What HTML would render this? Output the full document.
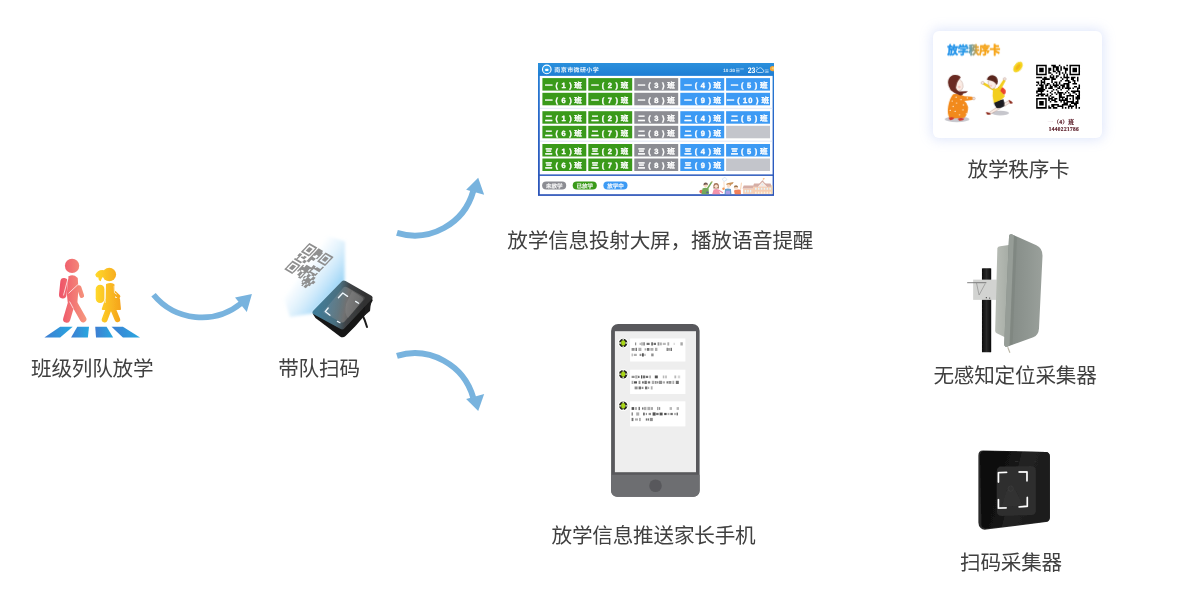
<!DOCTYPE html>
<html lang="zh-CN">
<head>
<meta charset="utf-8">
<title>放学秩序管理流程</title>
<style>
html,body{margin:0;padding:0;background:#fff;}
body{will-change:transform;width:1187px;height:613px;position:relative;overflow:hidden;font-family:"Liberation Sans","Noto Sans CJK SC",sans-serif;}
.abs{position:absolute;display:block;}
.lbl{position:absolute;white-space:nowrap;color:#404040;font-size:20.6px;line-height:24px;height:24px;letter-spacing:-0.2px;text-indent:0;text-align:center;}
svg{overflow:visible;}
svg text{font-family:"Liberation Sans","Noto Sans CJK SC",sans-serif;}
svg .srf text{font-family:"Liberation Serif","Noto Serif CJK SC",serif;}
</style>
</head>
<body>
<div class="lbl" style="left:31px;top:356.7px;width:122px;">班级列队放学</div>
<div class="lbl" style="left:278px;top:356.7px;width:82px;">带队扫码</div>
<div class="lbl" style="left:505.3px;top:228.7px;width:310px;">放学信息投射大屏，播放语音提醒</div>
<div class="lbl" style="left:550px;top:523.7px;width:207px;">放学信息推送家长手机</div>
<div class="lbl" style="left:966px;top:157.7px;width:105px;">放学秩序卡</div>
<div class="lbl" style="left:932px;top:363.7px;width:166px;">无感知定位采集器</div>
<div class="lbl" style="left:959px;top:550.7px;width:104px;">扫码采集器</div>
<svg class="abs" style="left:140px;top:270px;" width="130" height="70" viewBox="0 0 1138 613">
  <path d="M118 217 A 547 547 0 0 0 885 292" fill="none" stroke="#78B3DE" stroke-width="50"/>
  <path d="M980 210 L832 240 L935 368 Z" fill="#78B3DE"/>
</svg>
<svg class="abs" style="left:385px;top:165px;" width="115" height="85" viewBox="0 0 829 613">
  <path d="M86 490 A 440 440 0 0 0 636 188" fill="none" stroke="#78B3DE" stroke-width="43"/>
  <path d="M672 92 L585 178 L715 215 Z" fill="#78B3DE"/>
</svg>
<svg class="abs" style="left:385px;top:335px;" width="115" height="85" viewBox="0 0 829 613">
  <g transform="translate(0 640) scale(1 -1)">
  <path d="M86 490 A 440 440 0 0 0 636 188" fill="none" stroke="#78B3DE" stroke-width="43"/>
  <path d="M672 92 L585 178 L715 215 Z" fill="#78B3DE"/>
  </g>
</svg>
<svg class="abs" style="left:30px;top:250px;" width="120" height="100" viewBox="0 0 736 613">
  <defs>
    <linearGradient id="gBoy" gradientUnits="userSpaceOnUse" x1="180" y1="0" x2="345" y2="0"><stop offset="0" stop-color="#EE5268"/><stop offset="1" stop-color="#F6987E"/></linearGradient>
    <linearGradient id="gGirl" gradientUnits="userSpaceOnUse" x1="400" y1="0" x2="560" y2="0"><stop offset="0" stop-color="#FFD92A"/><stop offset="1" stop-color="#F5A21C"/></linearGradient>
    <linearGradient id="gRoad" x1="0" y1="0" x2="1" y2="0"><stop offset="0" stop-color="#3E7ED2"/><stop offset="1" stop-color="#27A8E0"/></linearGradient>
    <filter id="fStu" filterUnits="userSpaceOnUse" x="0" y="0" width="736" height="613"><feGaussianBlur stdDeviation="2.2"/></filter>
  </defs>
  <g filter="url(#fStu)">
  <g fill="url(#gRoad)">
    <path d="M185 470 L262 470 L185 537 L88 537 Z"/>
    <path d="M290 470 L362 470 L355 537 L252 537 Z"/>
    <path d="M400 470 L470 470 L510 537 L405 537 Z"/>
    <path d="M500 470 L570 470 L675 537 L570 537 Z"/>
  </g>
  <g fill="url(#gBoy)" stroke="url(#gBoy)" stroke-linecap="round" stroke-linejoin="round">
    <circle cx="258" cy="97" r="44" stroke="none"/>
    <path d="M209 194 L201 274" stroke-width="46" fill="none"/>
    <path d="M240 166 Q266 154 287 174 L291 240 L285 318 L237 318 L232 268 Z" stroke-width="12"/>
    <path d="M301 230 L318 280" stroke-width="28" fill="none"/>
    <path d="M258 312 L225 424" stroke-width="44" fill="none"/>
    <path d="M266 318 L326 424" stroke-width="40" fill="none"/>
  </g>
  <g fill="url(#gGirl)" stroke="url(#gGirl)" stroke-linecap="round" stroke-linejoin="round">
    <circle cx="486" cy="150" r="42" stroke="none"/>
    <path d="M454 124 Q416 118 400 152 Q406 172 420 168 Q418 186 434 192 Q440 164 458 160 Z" stroke="none"/>
    <path d="M430 240 L430 298" stroke-width="54" fill="none"/>
    <path d="M472 212 Q496 204 512 214 L518 300 L546 300 L552 362 L446 362 L468 300 Z" stroke-width="12"/>
    <path d="M518 262 L542 284" stroke-width="24" fill="none"/>
    <path d="M480 368 L458 426" stroke-width="36" fill="none"/>
    <path d="M512 368 L536 426" stroke-width="34" fill="none"/>
  </g>
  <g stroke="#fff" stroke-width="4.5" fill="none" stroke-linecap="round">
    <path d="M234 170 L206 276"/>
    <path d="M292 214 L238 264"/>
    <path d="M461 214 L461 322"/>
    <path d="M516 222 L518 262 L530 270"/>
    <path d="M244 318 L264 356"/>
  </g>
  </g>
</svg>
<svg class="abs" style="left:270px;top:230px;" width="120" height="120" viewBox="270 230 120 120">
<defs>
<linearGradient id="gBeam" gradientUnits="userSpaceOnUse" x1="303" y1="268" x2="336" y2="292"><stop offset="0" stop-color="#C4E5FA" stop-opacity="0"/><stop offset="0.45" stop-color="#BDE2F9" stop-opacity="0.5"/><stop offset="1" stop-color="#98D3F6" stop-opacity="1"/></linearGradient>
<linearGradient id="gFace" gradientUnits="userSpaceOnUse" x1="318" y1="300" x2="366" y2="306"><stop offset="0" stop-color="#417C98"/><stop offset="0.42" stop-color="#4A6E7E"/><stop offset="0.62" stop-color="#404346"/><stop offset="1" stop-color="#303030"/></linearGradient>
<linearGradient id="gScr" gradientUnits="userSpaceOnUse" x1="322" y1="300" x2="362" y2="308"><stop offset="0" stop-color="#5588A4"/><stop offset="0.45" stop-color="#667880"/><stop offset="0.6" stop-color="#757575"/><stop offset="1" stop-color="#505050"/></linearGradient>
<filter id="fB1" filterUnits="userSpaceOnUse" x="270" y="230" width="120" height="120"><feGaussianBlur stdDeviation="1.8"/></filter>
<filter id="fB2" filterUnits="userSpaceOnUse" x="270" y="230" width="120" height="120"><feGaussianBlur stdDeviation="0.45"/></filter>
</defs>
<g filter="url(#fB1)"><path d="M312.4 313.5 L344.5 281 L345 241.5 L328 236 L284 298 L290 317 Z" fill="url(#gBeam)"/></g>
<g filter="url(#fB2)"><g transform="matrix(24.2 14.2 -25.2 26.4 309.4 242.9)"><path d="M0.00 0.00h0.33v0.05h-0.33zM0.38 0.00h0.19v0.05h-0.19zM0.67 0.00h0.33v0.05h-0.33zM0.00 0.05h0.05v0.05h-0.05zM0.29 0.05h0.05v0.05h-0.05zM0.38 0.05h0.24v0.05h-0.24zM0.67 0.05h0.05v0.05h-0.05zM0.95 0.05h0.05v0.05h-0.05zM0.00 0.10h0.05v0.05h-0.05zM0.10 0.10h0.14v0.05h-0.14zM0.29 0.10h0.05v0.05h-0.05zM0.38 0.10h0.24v0.05h-0.24zM0.67 0.10h0.05v0.05h-0.05zM0.76 0.10h0.14v0.05h-0.14zM0.95 0.10h0.05v0.05h-0.05zM0.00 0.14h0.05v0.05h-0.05zM0.10 0.14h0.14v0.05h-0.14zM0.29 0.14h0.05v0.05h-0.05zM0.38 0.14h0.24v0.05h-0.24zM0.67 0.14h0.05v0.05h-0.05zM0.76 0.14h0.14v0.05h-0.14zM0.95 0.14h0.05v0.05h-0.05zM0.00 0.19h0.05v0.05h-0.05zM0.10 0.19h0.14v0.05h-0.14zM0.29 0.19h0.05v0.05h-0.05zM0.38 0.19h0.10v0.05h-0.10zM0.57 0.19h0.05v0.05h-0.05zM0.67 0.19h0.05v0.05h-0.05zM0.76 0.19h0.14v0.05h-0.14zM0.95 0.19h0.05v0.05h-0.05zM0.00 0.24h0.05v0.05h-0.05zM0.29 0.24h0.05v0.05h-0.05zM0.38 0.24h0.05v0.05h-0.05zM0.57 0.24h0.05v0.05h-0.05zM0.67 0.24h0.05v0.05h-0.05zM0.95 0.24h0.05v0.05h-0.05zM0.00 0.29h0.33v0.05h-0.33zM0.38 0.29h0.19v0.05h-0.19zM0.67 0.29h0.33v0.05h-0.33zM0.38 0.33h0.19v0.05h-0.19zM0.00 0.38h0.10v0.05h-0.10zM0.19 0.38h0.10v0.05h-0.10zM0.38 0.38h0.10v0.05h-0.10zM0.95 0.38h0.05v0.05h-0.05zM0.00 0.43h0.10v0.05h-0.10zM0.14 0.43h0.14v0.05h-0.14zM0.38 0.43h0.10v0.05h-0.10zM0.95 0.43h0.05v0.05h-0.05zM0.05 0.48h0.05v0.05h-0.05zM0.29 0.48h0.10v0.05h-0.10zM0.67 0.48h0.10v0.05h-0.10zM0.81 0.48h0.19v0.05h-0.19zM0.05 0.52h0.05v0.05h-0.05zM0.29 0.52h0.10v0.05h-0.10zM0.67 0.52h0.33v0.05h-0.33zM0.00 0.57h0.29v0.05h-0.29zM0.48 0.57h0.29v0.05h-0.29zM0.38 0.62h0.05v0.05h-0.05zM0.48 0.62h0.19v0.05h-0.19zM0.71 0.62h0.05v0.05h-0.05zM0.95 0.62h0.05v0.05h-0.05zM0.00 0.67h0.33v0.05h-0.33zM0.38 0.67h0.29v0.05h-0.29zM0.71 0.67h0.29v0.05h-0.29zM0.00 0.71h0.05v0.05h-0.05zM0.29 0.71h0.05v0.05h-0.05zM0.38 0.71h0.38v0.05h-0.38zM0.86 0.71h0.10v0.05h-0.10zM0.00 0.76h0.05v0.05h-0.05zM0.10 0.76h0.14v0.05h-0.14zM0.29 0.76h0.05v0.05h-0.05zM0.38 0.76h0.10v0.05h-0.10zM0.57 0.76h0.10v0.05h-0.10zM0.76 0.76h0.10v0.05h-0.10zM0.95 0.76h0.10v0.05h-0.10zM0.00 0.81h0.05v0.05h-0.05zM0.10 0.81h0.14v0.05h-0.14zM0.29 0.81h0.05v0.05h-0.05zM0.38 0.81h0.05v0.05h-0.05zM0.48 0.81h0.10v0.05h-0.10zM0.62 0.81h0.05v0.05h-0.05zM0.76 0.81h0.10v0.05h-0.10zM0.95 0.81h0.10v0.05h-0.10zM0.00 0.86h0.05v0.05h-0.05zM0.10 0.86h0.14v0.05h-0.14zM0.29 0.86h0.05v0.05h-0.05zM0.48 0.86h0.10v0.05h-0.10zM0.62 0.86h0.05v0.05h-0.05zM0.71 0.86h0.05v0.05h-0.05zM0.81 0.86h0.19v0.05h-0.19zM1.05 0.86h0.10v0.05h-0.10zM0.00 0.90h0.05v0.05h-0.05zM0.29 0.90h0.05v0.05h-0.05zM0.48 0.90h0.10v0.05h-0.10zM0.62 0.90h0.05v0.05h-0.05zM0.71 0.90h0.05v0.05h-0.05zM0.81 0.90h0.19v0.05h-0.19zM1.05 0.90h0.10v0.05h-0.10zM0.00 0.95h0.33v0.05h-0.33zM0.57 0.95h0.10v0.05h-0.10zM0.76 0.95h0.33v0.05h-0.33zM0.76 1.00h0.05v0.05h-0.05zM0.86 1.00h0.10v0.05h-0.10zM1.00 1.00h0.10v0.05h-0.10zM0.81 1.05h0.10v0.05h-0.10zM0.95 1.05h0.10v0.05h-0.10zM0.86 1.10h0.05v0.05h-0.05zM0.95 1.10h0.10v0.05h-0.10z" fill="#8F8F8F"/></g></g>
<g filter="url(#fB2)">
<path d="M362 314 Q365 320 367 327" stroke="#1C1C1C" stroke-width="2" fill="none" stroke-linecap="round"/>
<path d="M312.6 313.5 L315.5 318 L340 336.5 Q343 338.4 345.5 336 L355.5 326 L366 314 L372.6 300.5 L372 297 Z" fill="#141414"/>
<path d="M366 300 L371 302 L370 311 L364 316 Z" fill="#1E1E1E"/>
<path d="M341.6 281.4 Q343.4 279.8 345.6 281 L371 295.4 Q373.4 296.8 372 299 L344.6 328.2 Q342.6 330.2 340.2 328.8 L313.6 314.2 Q311.4 312.8 313.2 310.8 Z" fill="url(#gFace)"/>
<path d="M343.4 287.6 Q345 286.2 347 287.2 L363.6 296.4 Q365.6 297.6 364.2 299.4 L344.6 321.6 Q343 323.2 341 322.2 L324.6 313.6 Q322.4 312.4 324 310.4 Z" fill="url(#gScr)" opacity="0.9"/>
<path d="M352 291 L362 297 Q364 298.5 362.6 300.4 L348 318 Q344 314 346 304 Z" fill="#8A8A8A" opacity="0.45"/>
<g fill="none" stroke="#F0F8FD" stroke-width="1.3" stroke-linecap="round" stroke-linejoin="round"><path d="M338.4 297.8 L342.8 293 L347.6 296.4"/><path d="M328.2 308 L325.2 311.6 L330 315.2"/><path d="M355.6 301.4 L358.6 303.2"/><path d="M337.4 321.4 L340 322.8"/></g>
</g>
</svg>
<svg class="abs" style="left:530px;top:55px;text-rendering:geometricPrecision;" width="260" height="150" viewBox="530 55 260 150">
<defs><linearGradient id="gHdr" x1="0" y1="0" x2="0" y2="1"><stop offset="0" stop-color="#2A90DC"/><stop offset="1" stop-color="#1F7ED4"/></linearGradient><linearGradient id="gBrd" x1="0" y1="0" x2="0" y2="1"><stop offset="0" stop-color="#2384D8"/><stop offset="0.45" stop-color="#2965C8"/><stop offset="1" stop-color="#2C54B8"/></linearGradient><filter id="fArt" x="-5%" y="-5%" width="110%" height="110%"><feGaussianBlur stdDeviation="3"/></filter><clipPath id="cScr"><rect x="538.2" y="63" width="235.8" height="132.7"/></clipPath><filter id="fTxt" filterUnits="userSpaceOnUse" x="530" y="55" width="260" height="150"><feGaussianBlur stdDeviation="0.28"/></filter></defs>
<rect x="538" y="63" width="236" height="132.9" fill="url(#gBrd)"/>
<rect x="539.8" y="75.6" width="232.8" height="98.8" fill="#fff"/>
<rect x="539.8" y="175.9" width="232.8" height="18.3" fill="#fff"/>
<rect x="538" y="63" width="236" height="12.7" fill="url(#gHdr)"/>
<rect x="540" y="107.80000000000001" width="232.2" height="1.2" fill="#E6ECF7"/>
<rect x="540" y="140.6" width="232.2" height="1.2" fill="#E6ECF7"/>
<g filter="url(#fTxt)">
<circle cx="546.8" cy="69.4" r="4.3" fill="#2D9BE8" stroke="#fff" stroke-width="1.1"/>
<rect x="545.1" y="68.7" width="3.4" height="2.3" rx="0.8" fill="#fff"/>
<text x="554.3" y="72" font-size="6" font-weight="bold" fill="#E4F1FB" textLength="44.5" lengthAdjust="spacing">南京市微研小学</text>
<text x="723.3" y="72.1" font-size="4.6" font-weight="bold" fill="#D4E8F8">10:30</text>
<g fill="#CFE5F7"><rect x="736" y="68.6" width="3.6" height="0.7"/><rect x="740.2" y="68.6" width="3.6" height="0.7"/><rect x="736" y="70.3" width="3.6" height="0.7"/><rect x="736" y="71.6" width="3.6" height="0.6"/></g>
<text x="747.7" y="73" font-size="8" font-weight="bold" fill="#fff" textLength="7.6" lengthAdjust="spacingAndGlyphs">23</text>
<path d="M757.8 72.5 h4.4 a1.5 1.5 0 0 0 0.2 -3 a2.2 2.2 0 0 0 -4.2 -0.4 a1.7 1.7 0 0 0 -0.4 3.4 Z" fill="none" stroke="#E8F3FC" stroke-width="0.7"/>
<circle cx="757" cy="67.3" r="0.6" fill="#E8F3FC"/>
<g fill="#BFDCF4"><rect x="764.8" y="69.6" width="3.8" height="0.7"/><rect x="765.4" y="71" width="3.2" height="0.7"/><rect x="764.8" y="72.3" width="3.8" height="0.6"/></g>
</g>
<g clip-path="url(#cScr)"><circle cx="772.6" cy="68.6" r="2.7" fill="#F5A538"/><circle cx="773.2" cy="68.3" r="1.3" fill="#F8D070"/></g>
<rect x="542.4" y="78.1" width="43.9" height="12.5" fill="#3A9A1A"/>
<rect x="588.3" y="78.1" width="43.9" height="12.5" fill="#3A9A1A"/>
<rect x="634.3" y="78.1" width="43.9" height="12.5" fill="#8C8D93"/>
<rect x="680.3" y="78.1" width="43.9" height="12.5" fill="#3C9AF4"/>
<rect x="726.1" y="78.1" width="43.9" height="12.5" fill="#3C9AF4"/>
<rect x="542.4" y="92.8" width="43.9" height="12.5" fill="#3A9A1A"/>
<rect x="588.3" y="92.8" width="43.9" height="12.5" fill="#3A9A1A"/>
<rect x="634.3" y="92.8" width="43.9" height="12.5" fill="#8C8D93"/>
<rect x="680.3" y="92.8" width="43.9" height="12.5" fill="#3C9AF4"/>
<rect x="726.1" y="92.8" width="43.9" height="12.5" fill="#3C9AF4"/>
<rect x="542.4" y="111.2" width="43.9" height="12.5" fill="#3A9A1A"/>
<rect x="588.3" y="111.2" width="43.9" height="12.5" fill="#3A9A1A"/>
<rect x="634.3" y="111.2" width="43.9" height="12.5" fill="#8C8D93"/>
<rect x="680.3" y="111.2" width="43.9" height="12.5" fill="#3C9AF4"/>
<rect x="726.1" y="111.2" width="43.9" height="12.5" fill="#3C9AF4"/>
<rect x="542.4" y="125.8" width="43.9" height="12.5" fill="#3A9A1A"/>
<rect x="588.3" y="125.8" width="43.9" height="12.5" fill="#3A9A1A"/>
<rect x="634.3" y="125.8" width="43.9" height="12.5" fill="#8C8D93"/>
<rect x="680.3" y="125.8" width="43.9" height="12.5" fill="#3C9AF4"/>
<rect x="726.1" y="125.8" width="43.9" height="12.5" fill="#C3C5CB"/>
<rect x="542.4" y="144.0" width="43.9" height="12.5" fill="#3A9A1A"/>
<rect x="588.3" y="144.0" width="43.9" height="12.5" fill="#3A9A1A"/>
<rect x="634.3" y="144.0" width="43.9" height="12.5" fill="#8C8D93"/>
<rect x="680.3" y="144.0" width="43.9" height="12.5" fill="#3C9AF4"/>
<rect x="726.1" y="144.0" width="43.9" height="12.5" fill="#3C9AF4"/>
<rect x="542.4" y="158.5" width="43.9" height="12.5" fill="#3A9A1A"/>
<rect x="588.3" y="158.5" width="43.9" height="12.5" fill="#3A9A1A"/>
<rect x="634.3" y="158.5" width="43.9" height="12.5" fill="#8C8D93"/>
<rect x="680.3" y="158.5" width="43.9" height="12.5" fill="#3C9AF4"/>
<rect x="726.1" y="158.5" width="43.9" height="12.5" fill="#C3C5CB"/>
<g filter="url(#fTxt)" font-size="7.5" font-weight="bold" fill="#fff" stroke="#fff" stroke-width="0.35" text-anchor="middle">
<text y="87.8" x="548.8 556.7 563.6 570.5 578.1">一(1)班</text>
<text y="87.8" x="595.0 603.0 609.9 616.8 624.4">一(2)班</text>
<text y="87.8" x="641.5 649.5 656.4 663.3 670.9">一(3)班</text>
<text y="87.8" x="687.9 695.9 702.8 709.7 717.3">一(4)班</text>
<text y="87.8" x="734.4 742.3 749.2 756.1 763.7">一(5)班</text>
<text y="102.5" x="548.8 556.7 563.6 570.5 578.1">一(6)班</text>
<text y="102.5" x="595.0 603.0 609.9 616.8 624.4">一(7)班</text>
<text y="102.5" x="641.5 649.5 656.4 663.3 670.9">一(8)班</text>
<text y="102.5" x="687.9 695.9 702.8 709.7 717.3">一(9)班</text>
<text y="102.5" x="730.4 738.6 745.1 750.4 757.2 765.3">一(10)班</text>
<text y="121.0" x="548.8 556.7 563.6 570.5 578.1">二(1)班</text>
<text y="121.0" x="595.0 603.0 609.9 616.8 624.4">二(2)班</text>
<text y="121.0" x="641.5 649.5 656.4 663.3 670.9">二(3)班</text>
<text y="121.0" x="687.9 695.9 702.8 709.7 717.3">二(4)班</text>
<text y="121.0" x="734.4 742.3 749.2 756.1 763.7">二(5)班</text>
<text y="135.6" x="548.8 556.7 563.6 570.5 578.1">二(6)班</text>
<text y="135.6" x="595.0 603.0 609.9 616.8 624.4">二(7)班</text>
<text y="135.6" x="641.5 649.5 656.4 663.3 670.9">二(8)班</text>
<text y="135.6" x="687.9 695.9 702.8 709.7 717.3">二(9)班</text>
<text y="153.8" x="548.8 556.7 563.6 570.5 578.1">三(1)班</text>
<text y="153.8" x="595.0 603.0 609.9 616.8 624.4">三(2)班</text>
<text y="153.8" x="641.5 649.5 656.4 663.3 670.9">三(3)班</text>
<text y="153.8" x="687.9 695.9 702.8 709.7 717.3">三(4)班</text>
<text y="153.8" x="734.4 742.3 749.2 756.1 763.7">三(5)班</text>
<text y="168.2" x="548.8 556.7 563.6 570.5 578.1">三(6)班</text>
<text y="168.2" x="595.0 603.0 609.9 616.8 624.4">三(7)班</text>
<text y="168.2" x="641.5 649.5 656.4 663.3 670.9">三(8)班</text>
<text y="168.2" x="687.9 695.9 702.8 709.7 717.3">三(9)班</text>
</g>
<rect x="542.1" y="181.5" width="24.1" height="8.1" rx="4.05" fill="#8C8D93"/>
<text x="554.15" y="187.6" font-size="5.5" font-weight="bold" fill="#fff" stroke="#fff" stroke-width="0.15" text-anchor="middle" opacity="0.92" filter="url(#fTxt)">未放学</text>
<rect x="572.7" y="181.5" width="24.1" height="8.1" rx="4.05" fill="#3A9A1A"/>
<text x="584.75" y="187.6" font-size="5.5" font-weight="bold" fill="#fff" stroke="#fff" stroke-width="0.15" text-anchor="middle" opacity="0.92" filter="url(#fTxt)">已放学</text>
<rect x="603.4" y="181.5" width="24.1" height="8.1" rx="4.05" fill="#3C9AF4"/>
<text x="615.4499999999999" y="187.6" font-size="5.5" font-weight="bold" fill="#fff" stroke="#fff" stroke-width="0.15" text-anchor="middle" opacity="0.92" filter="url(#fTxt)">放学中</text>
<g opacity="0.85" transform="translate(690 170) scale(0.07582)" filter="url(#fArt)">
<path d="M700 245 L830 245 L830 315 L700 315 Z" fill="#F6C6A6"/>
<path d="M692 245 L708 206 L832 206 L832 245 Z" fill="#CFA096"/>
<path d="M830 215 L1085 215 L1085 315 L830 315 Z" fill="#F6C6A6"/>
<path d="M828 222 L845 178 L1062 178 L1080 222 Z" fill="#CFA096"/>
<path d="M885 222 L955 142 L1025 222 Z" fill="#FBE8DC"/>
<path d="M878 222 L955 136 L1032 222 L1018 222 L955 154 L892 222 Z" fill="#C89A92"/>
<circle cx="955" cy="192" r="13" fill="#D6E8F0"/>
<path d="M966 106 L966 140" stroke="#D8A070" stroke-width="4"/><path d="M966 106 L990 116 L966 128 Z" fill="#F5A050"/>
<rect x="722" y="262" width="18" height="34" fill="#DDF4FA"/>
<rect x="756" y="262" width="18" height="34" fill="#DDF4FA"/>
<rect x="790" y="262" width="18" height="34" fill="#DDF4FA"/>
<rect x="858" y="234" width="20" height="26" fill="#DDF4FA"/>
<rect x="858" y="286" width="20" height="28" fill="#FCEFD8"/>
<rect x="896" y="234" width="20" height="26" fill="#DDF4FA"/>
<rect x="896" y="286" width="20" height="28" fill="#FCEFD8"/>
<rect x="934" y="234" width="20" height="26" fill="#DDF4FA"/>
<rect x="934" y="286" width="20" height="28" fill="#FCEFD8"/>
<rect x="972" y="234" width="20" height="26" fill="#DDF4FA"/>
<rect x="972" y="286" width="20" height="28" fill="#FCEFD8"/>
<rect x="1010" y="234" width="20" height="26" fill="#DDF4FA"/>
<rect x="1010" y="286" width="20" height="28" fill="#FCEFD8"/>
<rect x="1048" y="234" width="20" height="26" fill="#DDF4FA"/>
<rect x="1048" y="286" width="20" height="28" fill="#FCEFD8"/>
<rect x="1072" y="200" width="14" height="115" fill="#F4D6A0"/>
<circle cx="150" cy="285" r="26" fill="#E2503E"/>
<path d="M228 250 L288 156" stroke="#5C9A3C" stroke-width="20" stroke-linecap="round"/>
<circle cx="288" cy="154" r="9" fill="#F5C8A0"/>
<path d="M165 245 Q205 225 245 245 L250 320 L150 320 Z" fill="#5C9A3C"/>
<rect x="215" y="285" width="30" height="22" rx="4" fill="#3B4780"/>
<circle cx="207" cy="202" r="26" fill="#F7D3B5"/>
<path d="M178 200 Q176 166 207 166 Q238 166 236 198 Q218 184 178 200 Z" fill="#5A3B34"/>
<path d="M310 200 Q312 170 345 170 Q378 170 380 205 L382 245 L308 245 Z" fill="#935A3C"/>
<circle cx="345" cy="214" r="23" fill="#FADCC6"/>
<path d="M312 258 Q345 244 378 258 L400 320 L292 320 Z" fill="#F27F9C"/>
<path d="M380 268 L428 298" stroke="#F27F9C" stroke-width="16" stroke-linecap="round"/>
<path d="M425 118 L462 96 L488 128 L448 152 Z" fill="#fff" stroke="#A9C6E6" stroke-width="6"/>
<path d="M447 158 L452 238" stroke="#F7D3B5" stroke-width="12" stroke-linecap="round"/>
<circle cx="442" cy="248" r="16" fill="#F0883A"/>
<path d="M478 196 Q476 172 505 170 Q540 168 576 158 Q566 190 540 196 L538 210 Z" fill="#BF7F3E"/>
<circle cx="508" cy="212" r="24" fill="#F9D8BE"/>
<path d="M462 252 Q500 236 540 252 L546 320 L456 320 Z" fill="#4C8CC4"/>
<path d="M474 275 L526 275 L530 320 L470 320 Z" fill="#9C8CE2"/>
<path d="M668 250 L678 172" stroke="#F7CBA4" stroke-width="14" stroke-linecap="round"/>
<path d="M580 270 Q620 252 668 262 L672 320 L590 320 Z" fill="#F06C3C"/>
<circle cx="606" cy="236" r="25" fill="#F9D8BE"/>
<path d="M578 232 Q578 200 608 200 Q638 202 634 232 Q612 218 578 232 Z" fill="#8E5C2C"/>
</g>
</svg>
<svg class="abs" style="left:600px;top:315px;" width="112" height="190" viewBox="600 315 112 190"><defs><filter id="fPh" filterUnits="userSpaceOnUse" x="600" y="315" width="112" height="190"><feGaussianBlur stdDeviation="0.35"/></filter></defs><g filter="url(#fPh)">
<path d="M611.1 331 a7 7 0 0 1 7 -7 h74.5 a7 7 0 0 1 7 7 v159.8 a6 6 0 0 1 -6 6 h-76.5 a6 6 0 0 1 -6 -6 Z" fill="#58595B"/>
<path d="M611.1 474.8 h88.5 v16 a6 6 0 0 1 -6 6 h-76.5 a6 6 0 0 1 -6 -6 Z" fill="#6D6E71"/>
<rect x="614.9" y="331.2" width="81.1" height="141" fill="#EEEEEE"/>
<circle cx="655.5" cy="485.7" r="6.3" fill="#58595B"/>
<rect x="630.1" y="338.5" width="55.3" height="23.0" fill="#fff"/>
<circle cx="623.2" cy="343.0" r="5.3" fill="#FFFFFF"/>
<circle cx="623.2" cy="343.0" r="4.2" fill="#26281E"/>
<ellipse cx="623.2" cy="343.0" rx="2.1" ry="2.7" fill="#A8D612"/>
<path d="M618.6 343.0 h2.4 M625.4 343.0 h2.4 M623.2 338.6 v1.6 M623.2 345.9 v1.5" stroke="#E4E6DC" stroke-width="1.3" fill="none"/>
<rect x="635.0" y="342.5" width="1.2" height="2.8" fill="#333" opacity="0.55"/>
<rect x="639.6" y="342.8" width="1.2" height="2.2" fill="#333" opacity="0.40"/>
<rect x="641.4" y="342.3" width="1.2" height="3.2" fill="#333" opacity="0.55"/>
<rect x="643.2" y="342.3" width="1.8" height="3.2" fill="#333" opacity="0.55"/>
<rect x="646.6" y="342.8" width="3.0" height="2.2" fill="#333" opacity="0.70"/>
<rect x="651.2" y="342.3" width="1.8" height="3.2" fill="#333" opacity="0.70"/>
<rect x="653.6" y="342.8" width="2.4" height="2.2" fill="#333" opacity="0.70"/>
<rect x="657.6" y="342.3" width="1.8" height="3.2" fill="#333" opacity="0.55"/>
<rect x="660.0" y="342.5" width="1.8" height="2.8" fill="#333" opacity="0.40"/>
<rect x="662.8" y="342.8" width="3.0" height="2.2" fill="#333" opacity="0.35"/>
<rect x="667.4" y="342.3" width="1.8" height="3.2" fill="#333" opacity="0.42"/>
<rect x="673.6" y="342.8" width="1.2" height="2.2" fill="#333" opacity="0.20"/>
<rect x="680.4" y="342.3" width="2.4" height="3.2" fill="#333" opacity="0.42"/>
<rect x="631.6" y="348.0" width="3.0" height="2.8" fill="#333" opacity="0.55"/>
<rect x="635.6" y="347.8" width="1.2" height="3.2" fill="#333" opacity="0.85"/>
<rect x="638.4" y="347.8" width="3.0" height="3.2" fill="#333" opacity="0.40"/>
<rect x="644.6" y="348.3" width="1.8" height="2.2" fill="#333" opacity="0.40"/>
<rect x="647.0" y="348.0" width="2.4" height="2.8" fill="#333" opacity="0.70"/>
<rect x="650.4" y="348.0" width="3.0" height="2.8" fill="#333" opacity="0.40"/>
<rect x="655.0" y="347.8" width="2.4" height="3.2" fill="#333" opacity="0.40"/>
<rect x="666.6" y="347.8" width="1.2" height="3.2" fill="#333" opacity="0.70"/>
<rect x="668.4" y="348.0" width="1.2" height="2.8" fill="#333" opacity="0.70"/>
<rect x="670.6" y="347.8" width="1.2" height="3.2" fill="#333" opacity="0.85"/>
<rect x="631.6" y="353.5" width="1.2" height="2.8" fill="#333" opacity="0.40"/>
<rect x="633.8" y="353.8" width="3.0" height="2.2" fill="#333" opacity="0.40"/>
<rect x="639.6" y="353.8" width="1.8" height="2.2" fill="#333" opacity="0.55"/>
<rect x="642.0" y="353.3" width="1.8" height="3.2" fill="#333" opacity="0.85"/>
<rect x="644.4" y="353.8" width="1.2" height="2.2" fill="#333" opacity="0.40"/>
<rect x="651.2" y="353.5" width="2.4" height="2.8" fill="#333" opacity="0.55"/>
<rect x="630.1" y="369.7" width="55.3" height="24.3" fill="#fff"/>
<circle cx="623.2" cy="374.2" r="5.3" fill="#FFFFFF"/>
<circle cx="623.2" cy="374.2" r="4.2" fill="#26281E"/>
<ellipse cx="623.2" cy="374.2" rx="2.1" ry="2.7" fill="#A8D612"/>
<path d="M618.6 374.2 h2.4 M625.4 374.2 h2.4 M623.2 369.8 v1.6 M623.2 377.1 v1.5" stroke="#E4E6DC" stroke-width="1.3" fill="none"/>
<rect x="631.6" y="375.8" width="3.0" height="2.2" fill="#333" opacity="0.55"/>
<rect x="635.2" y="375.3" width="2.4" height="3.2" fill="#333" opacity="0.40"/>
<rect x="638.2" y="375.8" width="1.2" height="2.2" fill="#333" opacity="0.85"/>
<rect x="641.0" y="375.3" width="1.2" height="3.2" fill="#333" opacity="0.85"/>
<rect x="642.8" y="375.5" width="2.4" height="2.8" fill="#333" opacity="0.70"/>
<rect x="645.8" y="375.8" width="2.4" height="2.2" fill="#333" opacity="0.70"/>
<rect x="649.2" y="375.5" width="1.8" height="2.8" fill="#333" opacity="0.40"/>
<rect x="654.8" y="375.5" width="3.0" height="2.8" fill="#333" opacity="0.85"/>
<rect x="662.8" y="375.5" width="1.2" height="2.8" fill="#333" opacity="0.35"/>
<rect x="664.6" y="375.5" width="2.4" height="2.8" fill="#333" opacity="0.28"/>
<rect x="674.4" y="375.5" width="1.8" height="2.8" fill="#333" opacity="0.35"/>
<rect x="677.8" y="375.5" width="2.4" height="2.8" fill="#333" opacity="0.20"/>
<rect x="631.6" y="380.8" width="1.8" height="3.2" fill="#333" opacity="0.40"/>
<rect x="634.0" y="381.3" width="3.0" height="2.2" fill="#333" opacity="0.85"/>
<rect x="638.6" y="380.8" width="1.8" height="3.2" fill="#333" opacity="0.55"/>
<rect x="642.0" y="381.3" width="1.8" height="2.2" fill="#333" opacity="0.70"/>
<rect x="644.4" y="380.8" width="2.4" height="3.2" fill="#333" opacity="0.70"/>
<rect x="647.8" y="381.3" width="2.4" height="2.2" fill="#333" opacity="0.70"/>
<rect x="651.8" y="380.8" width="2.4" height="3.2" fill="#333" opacity="0.40"/>
<rect x="654.8" y="381.0" width="1.8" height="2.8" fill="#333" opacity="0.55"/>
<rect x="657.2" y="381.3" width="1.2" height="2.2" fill="#333" opacity="0.70"/>
<rect x="659.0" y="380.8" width="3.0" height="3.2" fill="#333" opacity="0.55"/>
<rect x="662.6" y="381.3" width="2.4" height="2.2" fill="#333" opacity="0.40"/>
<rect x="666.6" y="381.3" width="1.2" height="2.2" fill="#333" opacity="0.85"/>
<rect x="668.4" y="381.0" width="3.0" height="2.8" fill="#333" opacity="0.55"/>
<rect x="672.4" y="380.8" width="1.8" height="3.2" fill="#333" opacity="0.40"/>
<rect x="675.8" y="380.8" width="3.0" height="3.2" fill="#333" opacity="0.70"/>
<rect x="634.6" y="386.5" width="3.0" height="2.8" fill="#333" opacity="0.55"/>
<rect x="638.6" y="386.5" width="2.4" height="2.8" fill="#333" opacity="0.70"/>
<rect x="641.6" y="386.8" width="1.8" height="2.2" fill="#333" opacity="0.55"/>
<rect x="645.0" y="386.5" width="2.4" height="2.8" fill="#333" opacity="0.70"/>
<rect x="648.0" y="386.8" width="1.2" height="2.2" fill="#333" opacity="0.40"/>
<rect x="650.8" y="386.3" width="1.8" height="3.2" fill="#333" opacity="0.40"/>
<rect x="630.1" y="401.3" width="55.3" height="25.1" fill="#fff"/>
<circle cx="623.2" cy="405.8" r="5.3" fill="#FFFFFF"/>
<circle cx="623.2" cy="405.8" r="4.2" fill="#26281E"/>
<ellipse cx="623.2" cy="405.8" rx="2.1" ry="2.7" fill="#A8D612"/>
<path d="M618.6 405.8 h2.4 M625.4 405.8 h2.4 M623.2 401.4 v1.6 M623.2 408.7 v1.5" stroke="#E4E6DC" stroke-width="1.3" fill="none"/>
<rect x="631.6" y="407.1" width="2.4" height="2.8" fill="#333" opacity="0.85"/>
<rect x="634.6" y="407.1" width="2.4" height="2.8" fill="#333" opacity="0.40"/>
<rect x="638.6" y="406.9" width="1.2" height="3.2" fill="#333" opacity="0.85"/>
<rect x="642.2" y="407.4" width="1.2" height="2.2" fill="#333" opacity="0.85"/>
<rect x="644.0" y="406.9" width="2.4" height="3.2" fill="#333" opacity="0.40"/>
<rect x="647.4" y="406.9" width="3.0" height="3.2" fill="#333" opacity="0.40"/>
<rect x="651.4" y="407.1" width="1.2" height="2.8" fill="#333" opacity="0.70"/>
<rect x="657.2" y="406.9" width="1.2" height="3.2" fill="#333" opacity="0.55"/>
<rect x="659.0" y="407.1" width="1.2" height="2.8" fill="#333" opacity="0.55"/>
<rect x="669.6" y="407.1" width="2.4" height="2.8" fill="#333" opacity="0.35"/>
<rect x="676.6" y="407.1" width="2.4" height="2.8" fill="#333" opacity="0.35"/>
<rect x="631.6" y="412.4" width="1.2" height="3.2" fill="#333" opacity="0.70"/>
<rect x="636.2" y="412.4" width="3.0" height="3.2" fill="#333" opacity="0.40"/>
<rect x="643.0" y="412.6" width="1.8" height="2.8" fill="#333" opacity="0.70"/>
<rect x="645.8" y="412.9" width="1.2" height="2.2" fill="#333" opacity="0.55"/>
<rect x="648.6" y="412.9" width="2.4" height="2.2" fill="#333" opacity="0.55"/>
<rect x="652.6" y="412.4" width="3.0" height="3.2" fill="#333" opacity="0.85"/>
<rect x="656.2" y="412.9" width="2.4" height="2.2" fill="#333" opacity="0.70"/>
<rect x="659.6" y="412.6" width="3.0" height="2.8" fill="#333" opacity="0.85"/>
<rect x="664.2" y="412.9" width="2.4" height="2.2" fill="#333" opacity="0.85"/>
<rect x="667.6" y="412.9" width="1.8" height="2.2" fill="#333" opacity="0.40"/>
<rect x="670.4" y="412.9" width="2.4" height="2.2" fill="#333" opacity="0.70"/>
<rect x="674.4" y="412.9" width="1.2" height="2.2" fill="#333" opacity="0.55"/>
<rect x="676.6" y="412.6" width="1.2" height="2.8" fill="#333" opacity="0.85"/>
<rect x="631.6" y="417.9" width="1.8" height="3.2" fill="#333" opacity="0.70"/>
<rect x="635.0" y="418.4" width="3.0" height="2.2" fill="#333" opacity="0.40"/>
<rect x="639.0" y="417.9" width="1.8" height="3.2" fill="#333" opacity="0.40"/>
<rect x="645.8" y="418.4" width="1.2" height="2.2" fill="#333" opacity="0.70"/>
<rect x="647.6" y="418.4" width="1.2" height="2.2" fill="#333" opacity="0.85"/>
<rect x="649.8" y="417.9" width="3.0" height="3.2" fill="#333" opacity="0.55"/>
</g></svg>
<div class="abs" style="left:932.6px;top:31px;width:169.6px;height:106.6px;border-radius:6px;background:#fff;box-shadow:0 0 12px 2px rgba(140,168,240,0.27);"></div>
<svg class="abs" style="left:920px;top:20px;" width="195" height="130" viewBox="0 0 920 613">
<defs><linearGradient id="gTitle" gradientUnits="userSpaceOnUse" x1="128" y1="0" x2="380" y2="0"><stop offset="0" stop-color="#1F90EA"/><stop offset="0.36" stop-color="#2B9AE8"/><stop offset="0.47" stop-color="#7C9A8C"/><stop offset="0.58" stop-color="#F3A21C"/><stop offset="1" stop-color="#F7A412"/></linearGradient>
<filter id="fCard" filterUnits="userSpaceOnUse" x="0" y="0" width="920" height="613"><feGaussianBlur stdDeviation="1.5"/></filter></defs>
<g filter="url(#fCard)">
<text x="129" y="163" font-size="51" font-weight="bold" fill="url(#gTitle)" stroke="url(#gTitle)" stroke-width="2.2" textLength="250" lengthAdjust="spacing">放学秩序卡</text>
<g transform="translate(70.77 165.13) scale(0.4616)">
<ellipse cx="225" cy="655" rx="125" ry="30" fill="#C6C6CC"/>
<ellipse cx="668" cy="592" rx="88" ry="24" fill="#C6C6CC"/>
<path d="M185 400 Q240 390 300 420 L380 425 Q392 440 382 458 L300 470 Q330 490 338 530 Q340 600 300 640 L150 650 Q120 600 135 520 Q150 440 185 400Z" fill="#F28A1C"/>
<g fill="#FFF1DC"><circle cx="215" cy="430" r="7"/><circle cx="265" cy="455" r="7"/><circle cx="175" cy="470" r="7"/><circle cx="220" cy="490" r="7"/><circle cx="185" cy="525" r="7"/><circle cx="290" cy="510" r="7"/><circle cx="155" cy="565" r="7"/><circle cx="205" cy="575" r="7"/><circle cx="285" cy="560" r="7"/><circle cx="320" cy="600" r="7"/><circle cx="250" cy="610" r="7"/><circle cx="330" cy="438" r="7"/></g>
<circle cx="396" cy="444" r="14" fill="#F7E3D8" stroke="#9A7468" stroke-width="3.5"/>
<path d="M212 250 Q262 232 282 290 Q296 330 270 358 Q240 380 205 350 Z" fill="#FBEDE6" stroke="#9A7468" stroke-width="3.5"/>
<circle cx="248" cy="326" r="14" fill="#F8C9C0"/>
<path d="M200 204 Q252 200 262 232 Q226 262 214 330 Q218 362 250 372 L335 368 Q320 392 290 392 Q280 420 250 410 Q200 396 160 360 Q120 300 138 250 Q158 206 200 204Z" fill="#6A2C24"/>
<path d="M140 640 Q170 628 196 640 Q190 668 150 664Z" fill="#D2382E"/><path d="M232 650 Q262 636 300 650 Q290 674 246 670Z" fill="#D2382E"/>
<path d="M640 528 L668 545 L572 600 L556 584Z" fill="#FBEDE6" stroke="#9A7468" stroke-width="3.5"/>
<path d="M696 498 L760 462 L772 482 L712 522Z" fill="#FBEDE6" stroke="#9A7468" stroke-width="3.5"/>
<path d="M750 458 Q780 462 796 488 Q786 500 766 494Z" fill="#8E2C1E"/>
<path d="M520 584 Q548 578 572 602 Q566 614 530 606Z" fill="#8E2C1E"/>
<path d="M642 326 Q690 316 720 356 Q730 390 706 404 L660 392Z" fill="#EA452E"/>
<path d="M600 478 L698 450 Q716 490 708 522 Q670 548 628 540 Q606 512 600 478Z" fill="#1C1C20"/>
<path d="M592 350 L640 336 L714 418 Q700 452 600 490 Q580 420 592 350Z" fill="#F3CE1C"/>
<path d="M632 350 L700 250 L722 262 L664 368Z" fill="#F3CE1C"/>
<path d="M600 366 L488 300 L502 280 L612 338Z" fill="#F3CE1C"/>
<circle cx="486" cy="284" r="15" fill="#FBEDE6" stroke="#9A7468" stroke-width="3.5"/><circle cx="712" cy="244" r="14" fill="#FBEDE6" stroke="#9A7468" stroke-width="3.5"/>
<path d="M540 262 Q600 250 624 300 Q622 340 584 346 Q546 336 540 262Z" fill="#FBEDE6" stroke="#9A7468" stroke-width="3.5"/>
<circle cx="572" cy="314" r="11" fill="#F8C9C0"/>
<path d="M530 252 Q540 206 590 206 Q640 214 642 270 Q640 296 628 304 Q612 262 530 252Z" fill="#5A281E"/>
<g transform="rotate(-52 848 122)"><ellipse cx="848" cy="122" rx="60" ry="36" fill="#F7D61A" stroke="#E9C010" stroke-width="4"/><ellipse cx="848" cy="122" rx="36" ry="17" fill="#F1B51C"/></g>
</g>
</g>
<g filter="url(#fCard)"><path d="M548.00 211.00h49.97v7.14h-49.97zM619.38 211.00h21.41v7.14h-21.41zM655.07 211.00h7.14v7.14h-7.14zM690.76 211.00h7.14v7.14h-7.14zM705.03 211.00h49.97v7.14h-49.97zM548.00 218.14h7.14v7.14h-7.14zM590.83 218.14h7.14v7.14h-7.14zM626.52 218.14h28.55v7.14h-28.55zM662.21 218.14h7.14v7.14h-7.14zM676.48 218.14h7.14v7.14h-7.14zM705.03 218.14h7.14v7.14h-7.14zM747.86 218.14h7.14v7.14h-7.14zM548.00 225.28h7.14v7.14h-7.14zM562.28 225.28h21.41v7.14h-21.41zM590.83 225.28h7.14v7.14h-7.14zM605.10 225.28h14.28v7.14h-14.28zM626.52 225.28h7.14v7.14h-7.14zM640.79 225.28h14.28v7.14h-14.28zM662.21 225.28h7.14v7.14h-7.14zM676.48 225.28h21.41v7.14h-21.41zM705.03 225.28h7.14v7.14h-7.14zM719.31 225.28h21.41v7.14h-21.41zM747.86 225.28h7.14v7.14h-7.14zM548.00 232.41h7.14v7.14h-7.14zM562.28 232.41h21.41v7.14h-21.41zM590.83 232.41h7.14v7.14h-7.14zM605.10 232.41h14.28v7.14h-14.28zM626.52 232.41h7.14v7.14h-7.14zM640.79 232.41h14.28v7.14h-14.28zM662.21 232.41h7.14v7.14h-7.14zM683.62 232.41h14.28v7.14h-14.28zM705.03 232.41h7.14v7.14h-7.14zM719.31 232.41h21.41v7.14h-21.41zM747.86 232.41h7.14v7.14h-7.14zM548.00 239.55h7.14v7.14h-7.14zM562.28 239.55h21.41v7.14h-21.41zM590.83 239.55h7.14v7.14h-7.14zM605.10 239.55h7.14v7.14h-7.14zM626.52 239.55h14.28v7.14h-14.28zM647.93 239.55h14.28v7.14h-14.28zM683.62 239.55h7.14v7.14h-7.14zM705.03 239.55h7.14v7.14h-7.14zM719.31 239.55h21.41v7.14h-21.41zM747.86 239.55h7.14v7.14h-7.14zM548.00 246.69h7.14v7.14h-7.14zM590.83 246.69h7.14v7.14h-7.14zM605.10 246.69h14.28v7.14h-14.28zM640.79 246.69h7.14v7.14h-7.14zM655.07 246.69h7.14v7.14h-7.14zM669.34 246.69h7.14v7.14h-7.14zM683.62 246.69h7.14v7.14h-7.14zM705.03 246.69h7.14v7.14h-7.14zM747.86 246.69h7.14v7.14h-7.14zM548.00 253.83h49.97v7.14h-49.97zM619.38 253.83h7.14v7.14h-7.14zM655.07 253.83h7.14v7.14h-7.14zM676.48 253.83h7.14v7.14h-7.14zM690.76 253.83h7.14v7.14h-7.14zM705.03 253.83h49.97v7.14h-49.97zM612.24 260.97h7.14v7.14h-7.14zM626.52 260.97h7.14v7.14h-7.14zM640.79 260.97h14.28v7.14h-14.28zM676.48 260.97h7.14v7.14h-7.14zM690.76 260.97h7.14v7.14h-7.14zM548.00 268.10h28.55v7.14h-28.55zM583.69 268.10h14.28v7.14h-14.28zM612.24 268.10h21.41v7.14h-21.41zM640.79 268.10h7.14v7.14h-7.14zM662.21 268.10h7.14v7.14h-7.14zM676.48 268.10h28.55v7.14h-28.55zM712.17 268.10h21.41v7.14h-21.41zM740.72 268.10h7.14v7.14h-7.14zM576.55 275.24h35.69v7.14h-35.69zM619.38 275.24h21.41v7.14h-21.41zM669.34 275.24h7.14v7.14h-7.14zM690.76 275.24h7.14v7.14h-7.14zM712.17 275.24h14.28v7.14h-14.28zM740.72 275.24h7.14v7.14h-7.14zM569.41 282.38h7.14v7.14h-7.14zM583.69 282.38h7.14v7.14h-7.14zM619.38 282.38h7.14v7.14h-7.14zM662.21 282.38h7.14v7.14h-7.14zM683.62 282.38h21.41v7.14h-21.41zM719.31 282.38h14.28v7.14h-14.28zM740.72 282.38h7.14v7.14h-7.14zM548.00 289.52h14.28v7.14h-14.28zM569.41 289.52h21.41v7.14h-21.41zM619.38 289.52h7.14v7.14h-7.14zM633.66 289.52h14.28v7.14h-14.28zM655.07 289.52h7.14v7.14h-7.14zM697.90 289.52h14.28v7.14h-14.28zM726.45 289.52h7.14v7.14h-7.14zM555.14 296.66h7.14v7.14h-7.14zM569.41 296.66h7.14v7.14h-7.14zM583.69 296.66h7.14v7.14h-7.14zM597.97 296.66h14.28v7.14h-14.28zM626.52 296.66h7.14v7.14h-7.14zM640.79 296.66h7.14v7.14h-7.14zM655.07 296.66h7.14v7.14h-7.14zM676.48 296.66h28.55v7.14h-28.55zM719.31 296.66h21.41v7.14h-21.41zM548.00 303.79h7.14v7.14h-7.14zM562.28 303.79h21.41v7.14h-21.41zM590.83 303.79h14.28v7.14h-14.28zM612.24 303.79h7.14v7.14h-7.14zM626.52 303.79h28.55v7.14h-28.55zM662.21 303.79h21.41v7.14h-21.41zM690.76 303.79h14.28v7.14h-14.28zM747.86 303.79h7.14v7.14h-7.14zM569.41 310.93h14.28v7.14h-14.28zM590.83 310.93h7.14v7.14h-7.14zM612.24 310.93h14.28v7.14h-14.28zM633.66 310.93h14.28v7.14h-14.28zM655.07 310.93h7.14v7.14h-7.14zM669.34 310.93h14.28v7.14h-14.28zM690.76 310.93h14.28v7.14h-14.28zM726.45 310.93h14.28v7.14h-14.28zM747.86 310.93h7.14v7.14h-7.14zM555.14 318.07h28.55v7.14h-28.55zM590.83 318.07h7.14v7.14h-7.14zM605.10 318.07h21.41v7.14h-21.41zM647.93 318.07h14.28v7.14h-14.28zM669.34 318.07h7.14v7.14h-7.14zM683.62 318.07h28.55v7.14h-28.55zM719.31 318.07h7.14v7.14h-7.14zM740.72 318.07h14.28v7.14h-14.28zM555.14 325.21h35.69v7.14h-35.69zM626.52 325.21h7.14v7.14h-7.14zM640.79 325.21h7.14v7.14h-7.14zM662.21 325.21h7.14v7.14h-7.14zM697.90 325.21h7.14v7.14h-7.14zM740.72 325.21h7.14v7.14h-7.14zM548.00 332.34h35.69v7.14h-35.69zM597.97 332.34h7.14v7.14h-7.14zM619.38 332.34h7.14v7.14h-7.14zM647.93 332.34h7.14v7.14h-7.14zM690.76 332.34h7.14v7.14h-7.14zM712.17 332.34h42.83v7.14h-42.83zM548.00 339.48h7.14v7.14h-7.14zM569.41 339.48h7.14v7.14h-7.14zM612.24 339.48h7.14v7.14h-7.14zM633.66 339.48h7.14v7.14h-7.14zM647.93 339.48h28.55v7.14h-28.55zM683.62 339.48h7.14v7.14h-7.14zM697.90 339.48h7.14v7.14h-7.14zM719.31 339.48h14.28v7.14h-14.28zM747.86 339.48h7.14v7.14h-7.14zM555.14 346.62h35.69v7.14h-35.69zM597.97 346.62h7.14v7.14h-7.14zM619.38 346.62h7.14v7.14h-7.14zM640.79 346.62h7.14v7.14h-7.14zM655.07 346.62h14.28v7.14h-14.28zM676.48 346.62h7.14v7.14h-7.14zM705.03 346.62h7.14v7.14h-7.14zM733.59 346.62h7.14v7.14h-7.14zM747.86 346.62h7.14v7.14h-7.14zM548.00 353.76h14.28v7.14h-14.28zM569.41 353.76h14.28v7.14h-14.28zM590.83 353.76h14.28v7.14h-14.28zM612.24 353.76h7.14v7.14h-7.14zM655.07 353.76h14.28v7.14h-14.28zM690.76 353.76h35.69v7.14h-35.69zM740.72 353.76h14.28v7.14h-14.28zM605.10 360.90h7.14v7.14h-7.14zM619.38 360.90h14.28v7.14h-14.28zM655.07 360.90h28.55v7.14h-28.55zM690.76 360.90h7.14v7.14h-7.14zM719.31 360.90h7.14v7.14h-7.14zM733.59 360.90h21.41v7.14h-21.41zM548.00 368.03h49.97v7.14h-49.97zM605.10 368.03h21.41v7.14h-21.41zM633.66 368.03h14.28v7.14h-14.28zM655.07 368.03h7.14v7.14h-7.14zM669.34 368.03h7.14v7.14h-7.14zM683.62 368.03h14.28v7.14h-14.28zM705.03 368.03h7.14v7.14h-7.14zM719.31 368.03h7.14v7.14h-7.14zM733.59 368.03h21.41v7.14h-21.41zM548.00 375.17h7.14v7.14h-7.14zM590.83 375.17h7.14v7.14h-7.14zM605.10 375.17h7.14v7.14h-7.14zM619.38 375.17h21.41v7.14h-21.41zM655.07 375.17h42.83v7.14h-42.83zM719.31 375.17h7.14v7.14h-7.14zM740.72 375.17h7.14v7.14h-7.14zM548.00 382.31h7.14v7.14h-7.14zM562.28 382.31h21.41v7.14h-21.41zM590.83 382.31h7.14v7.14h-7.14zM612.24 382.31h7.14v7.14h-7.14zM633.66 382.31h14.28v7.14h-14.28zM662.21 382.31h7.14v7.14h-7.14zM676.48 382.31h7.14v7.14h-7.14zM690.76 382.31h35.69v7.14h-35.69zM733.59 382.31h14.28v7.14h-14.28zM548.00 389.45h7.14v7.14h-7.14zM562.28 389.45h21.41v7.14h-21.41zM590.83 389.45h7.14v7.14h-7.14zM676.48 389.45h21.41v7.14h-21.41zM712.17 389.45h35.69v7.14h-35.69zM548.00 396.59h7.14v7.14h-7.14zM562.28 396.59h21.41v7.14h-21.41zM590.83 396.59h7.14v7.14h-7.14zM619.38 396.59h35.69v7.14h-35.69zM669.34 396.59h28.55v7.14h-28.55zM705.03 396.59h7.14v7.14h-7.14zM726.45 396.59h14.28v7.14h-14.28zM548.00 403.72h7.14v7.14h-7.14zM590.83 403.72h7.14v7.14h-7.14zM605.10 403.72h7.14v7.14h-7.14zM619.38 403.72h14.28v7.14h-14.28zM647.93 403.72h28.55v7.14h-28.55zM697.90 403.72h28.55v7.14h-28.55zM733.59 403.72h7.14v7.14h-7.14zM548.00 410.86h49.97v7.14h-49.97zM605.10 410.86h14.28v7.14h-14.28zM626.52 410.86h21.41v7.14h-21.41zM669.34 410.86h7.14v7.14h-7.14zM683.62 410.86h7.14v7.14h-7.14zM697.90 410.86h7.14v7.14h-7.14zM712.17 410.86h7.14v7.14h-7.14zM733.59 410.86h7.14v7.14h-7.14zM747.86 410.86h7.14v7.14h-7.14z" fill="#060606"/></g>
<g filter="url(#fCard)" font-weight="bold" fill="#5E222C" stroke="#5E222C" stroke-width="0.9" class="srf">
<text x="602" y="490" font-size="27" textLength="124" lengthAdjust="spacing"><tspan fill="#DCC8D0" stroke="none">一</tspan>（4）班</text>
<text x="607" y="522" font-size="25" textLength="142" lengthAdjust="spacing">1440221786</text>
</g>
</svg>
<svg class="abs" style="left:950px;top:225px;" width="115" height="135" viewBox="0 0 522 613">
  <defs>
    <linearGradient id="gAntF" x1="0" y1="0" x2="1" y2="0"><stop offset="0" stop-color="#8C938E"/><stop offset="0.12" stop-color="#848B86"/><stop offset="0.6" stop-color="#8F9691"/><stop offset="1" stop-color="#9AA09B"/></linearGradient>
    <linearGradient id="gAntB" x1="0" y1="0" x2="1" y2="0"><stop offset="0" stop-color="#B8BDB6"/><stop offset="1" stop-color="#A4AAA3"/></linearGradient>
    <linearGradient id="gPole" x1="0" y1="0" x2="1" y2="0"><stop offset="0" stop-color="#0E0E0E"/><stop offset="0.5" stop-color="#2A2A2A"/><stop offset="1" stop-color="#0A0A0A"/></linearGradient>
    <filter id="fSoft" x="-10%" y="-10%" width="120%" height="120%"><feGaussianBlur stdDeviation="1.6"/></filter>
  </defs>
  <g filter="url(#fSoft)">
  <path d="M262 555 L272 580" stroke="#B9B5A6" stroke-width="5" fill="none"/>
  <rect x="145" y="196" width="42" height="382" rx="3" fill="url(#gPole)"/>
  <path d="M105 248 L212 248 L212 340 L105 340 Z" fill="#D2D3D1"/>
  <path d="M78 262 L165 262" stroke="#6F6F6F" stroke-width="4"/>
  <path d="M120 262 L132 318 M160 266 L132 318" stroke="#8A8A8A" stroke-width="3" fill="none"/>
  <circle cx="165" cy="330" r="3" fill="#444"/><circle cx="180" cy="332" r="3" fill="#444"/>
  <path d="M215 104 Q218 96 228 96 L275 90 L275 522 L212 492 Q204 488 205 478 Z" fill="url(#gAntB)"/>
  <path d="M268 52 Q268 40 280 42 L392 92 Q420 104 420 140 L404 470 Q402 500 378 510 L262 552 Q246 556 246 540 Z" fill="url(#gAntF)"/>
  <path d="M268 52 Q268 40 280 42 L292 48 L272 545 L262 552 Q246 556 246 540 Z" fill="#969D97"/>
  <path d="M290 48 L304 56 L284 542 L270 546 Z" fill="#7E857F" opacity="0.7"/>
  </g>
</svg>
<svg class="abs" style="left:965px;top:440px;" width="100" height="100" viewBox="0 0 613 613">
  <defs>
    <linearGradient id="gBox" x1="0" y1="0" x2="1" y2="0.3"><stop offset="0" stop-color="#0B0B0B"/><stop offset="0.55" stop-color="#141414"/><stop offset="0.56" stop-color="#232323"/><stop offset="1" stop-color="#1C1C1C"/></linearGradient>
    <filter id="fSoft2" x="-10%" y="-10%" width="120%" height="120%"><feGaussianBlur stdDeviation="1.8"/></filter>
    <filter id="fGlow" x="-30%" y="-30%" width="160%" height="160%"><feGaussianBlur stdDeviation="2.2"/></filter>
  </defs>
  <g filter="url(#fSoft2)">
  <path d="M82 95 Q82 64 112 65 L494 73 Q520 74 520 100 L520 478 Q520 500 496 503 L130 549 Q108 552 96 540 Q82 526 82 505 Z" fill="#2B2B2B"/>
  <path d="M92 96 Q92 66 122 67 L494 73 Q520 74 520 100 L520 474 Q520 496 496 499 L132 543 Q104 546 100 520 Z" fill="url(#gBox)"/>
  <path d="M195 192 Q195 162 225 162 L405 160 Q435 160 435 190 L435 432 Q435 458 408 460 L226 466 Q196 466 195 438 Z" fill="#2D2D2D"/>
  <path d="M250 330 Q262 292 282 284 Q302 292 330 350 L350 400 L225 410 Z" fill="#333" opacity="0.8"/>
  <circle cx="280" cy="298" r="16" fill="none" stroke="#3C3C3C" stroke-width="5"/>
  <rect x="305" y="130" width="22" height="3" fill="#444"/><circle cx="430" cy="130" r="2.5" fill="#555"/>
  </g>
  <g fill="none" stroke="#fff" stroke-width="11" stroke-linecap="round" stroke-linejoin="round" filter="url(#fGlow)" opacity="0.6">
    <path d="M205 258 L205 200 L255 198"/><path d="M332 196 L380 196 L380 250"/>
    <path d="M205 365 L205 418 L252 416"/><path d="M332 410 L382 406 L382 352"/>
  </g>
  <g fill="none" stroke="#fff" stroke-width="8" stroke-linecap="round" stroke-linejoin="round">
    <path d="M205 258 L205 200 L255 198"/><path d="M332 196 L380 196 L380 250"/>
    <path d="M205 365 L205 418 L252 416"/><path d="M332 410 L382 406 L382 352"/>
  </g>
</svg>
</body>
</html>
